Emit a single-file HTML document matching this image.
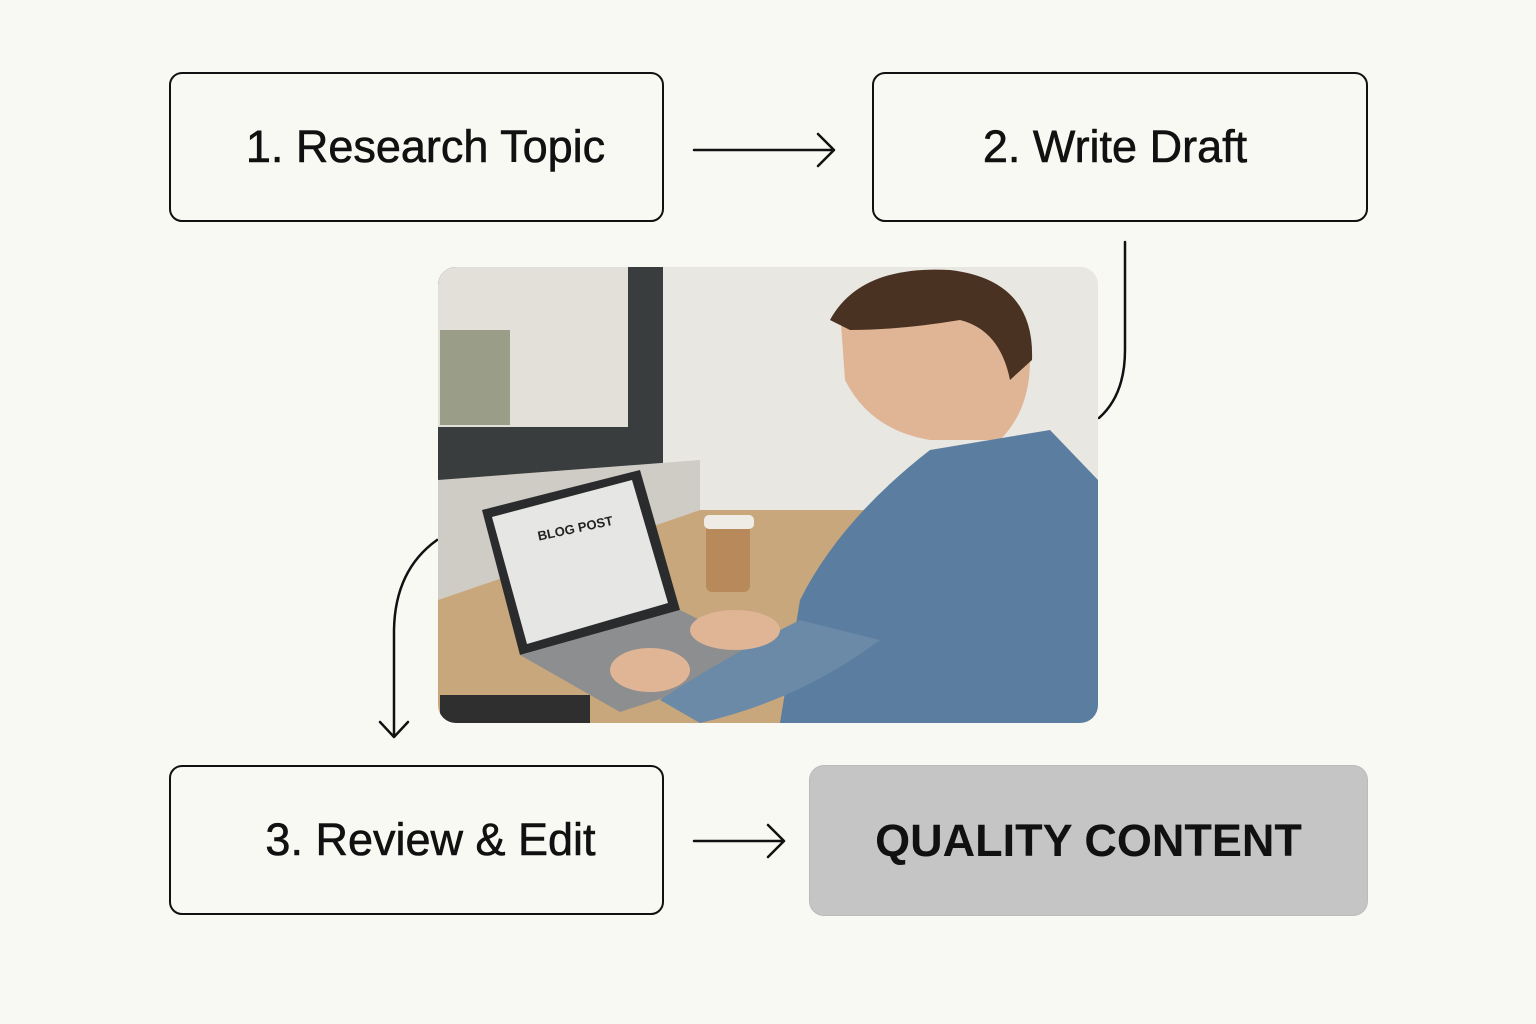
<!DOCTYPE html>
<html><head><meta charset="utf-8"><style>
html,body{margin:0;padding:0;}
body{width:1536px;height:1024px;background:#f9f9f4;position:relative;overflow:hidden;font-family:"Liberation Sans",sans-serif;}
.box{position:absolute;box-sizing:border-box;border:2.5px solid #111;border-radius:13px;display:flex;align-items:center;justify-content:center;font-size:45px;color:#111;-webkit-text-stroke:0.6px #111;}
</style></head><body>
<div class="box" style="left:169px;top:72px;width:495px;height:150px;padding-left:18px;">1. Research Topic</div>
<div class="box" style="left:872px;top:72px;width:496px;height:150px;padding-right:10px;">2. Write Draft</div>
<div class="box" style="left:169px;top:765px;width:495px;height:150px;padding-left:28px;">3. Review &amp; Edit</div>
<div class="box" style="left:809px;top:765px;width:559px;height:151px;border:1px solid #bbb;background:#c5c5c5;border-radius:15px;font-weight:bold;font-size:45px;-webkit-text-stroke:0;">QUALITY CONTENT</div>
<svg width="1536" height="1024" style="position:absolute;left:0;top:0" xmlns="http://www.w3.org/2000/svg">
<defs><clipPath id="c"><rect x="438" y="267" width="660" height="456" rx="18"/></clipPath></defs>
<g fill="none" stroke="#111" stroke-width="2.5" stroke-linecap="round" stroke-linejoin="round">
<path d="M694 150H834M818 134L834 150L818 166"/>
<path d="M694 841H784M768 825L784 841L768 857"/>
<path d="M1125 242V350Q1125 395 1099 418"/>
<path d="M437 540Q395 570 394 630V736M380 722L394 737L408 722"/>
</g>
<g clip-path="url(#c)">
<rect x="438" y="267" width="660" height="456" fill="#e4e2dc"/>
<rect x="660" y="267" width="440" height="250" fill="#e8e7e2"/>
<rect x="438" y="267" width="225" height="215" fill="#3a3d3e"/>
<rect x="438" y="267" width="190" height="160" fill="#e2e0d8"/>
<rect x="440" y="330" width="70" height="95" fill="#9a9e88"/>
<polygon points="438,480 700,460 700,510 438,600" fill="#cfccc5"/>
<polygon points="438,600 700,510 930,510 930,723 438,723" fill="#c8a77c"/>
<rect x="706" y="520" width="44" height="72" rx="6" fill="#b8895a"/>
<rect x="704" y="515" width="50" height="14" rx="5" fill="#efece6"/>
<polygon points="482,510 640,470 680,610 520,655" fill="#2a2b2d"/>
<polygon points="492,517 632,480 668,603 527,644" fill="#e6e6e4"/>
<polygon points="520,655 680,610 780,660 620,712" fill="#8d8e90"/>
<path d="M840 310Q880 265 960 275Q1030 290 1030 360Q1030 410 1000 440L930 440Q870 430 845 380Z" fill="#e0b596"/>
<path d="M830 320Q860 265 950 270Q1035 280 1032 360L1010 380Q1000 330 960 320Q900 330 850 330Z" fill="#4a3222"/>
<path d="M780 723L800 600Q840 520 930 450L1050 430L1098 480V723Z" fill="#5b7d9f"/>
<path d="M660 700Q720 660 800 620L880 640Q800 700 700 723Z" fill="#6a8aa8"/>
<ellipse cx="735" cy="630" rx="45" ry="20" fill="#e0b596"/>
<ellipse cx="650" cy="670" rx="40" ry="22" fill="#e0b596"/>
<rect x="440" y="695" width="150" height="28" fill="#2f2f30"/>
</g>
<text x="537" y="536" font-family="Liberation Sans" font-weight="bold" font-size="13" fill="#222" transform="rotate(-12 560 530)">BLOG POST</text>
</svg>
</body></html>
